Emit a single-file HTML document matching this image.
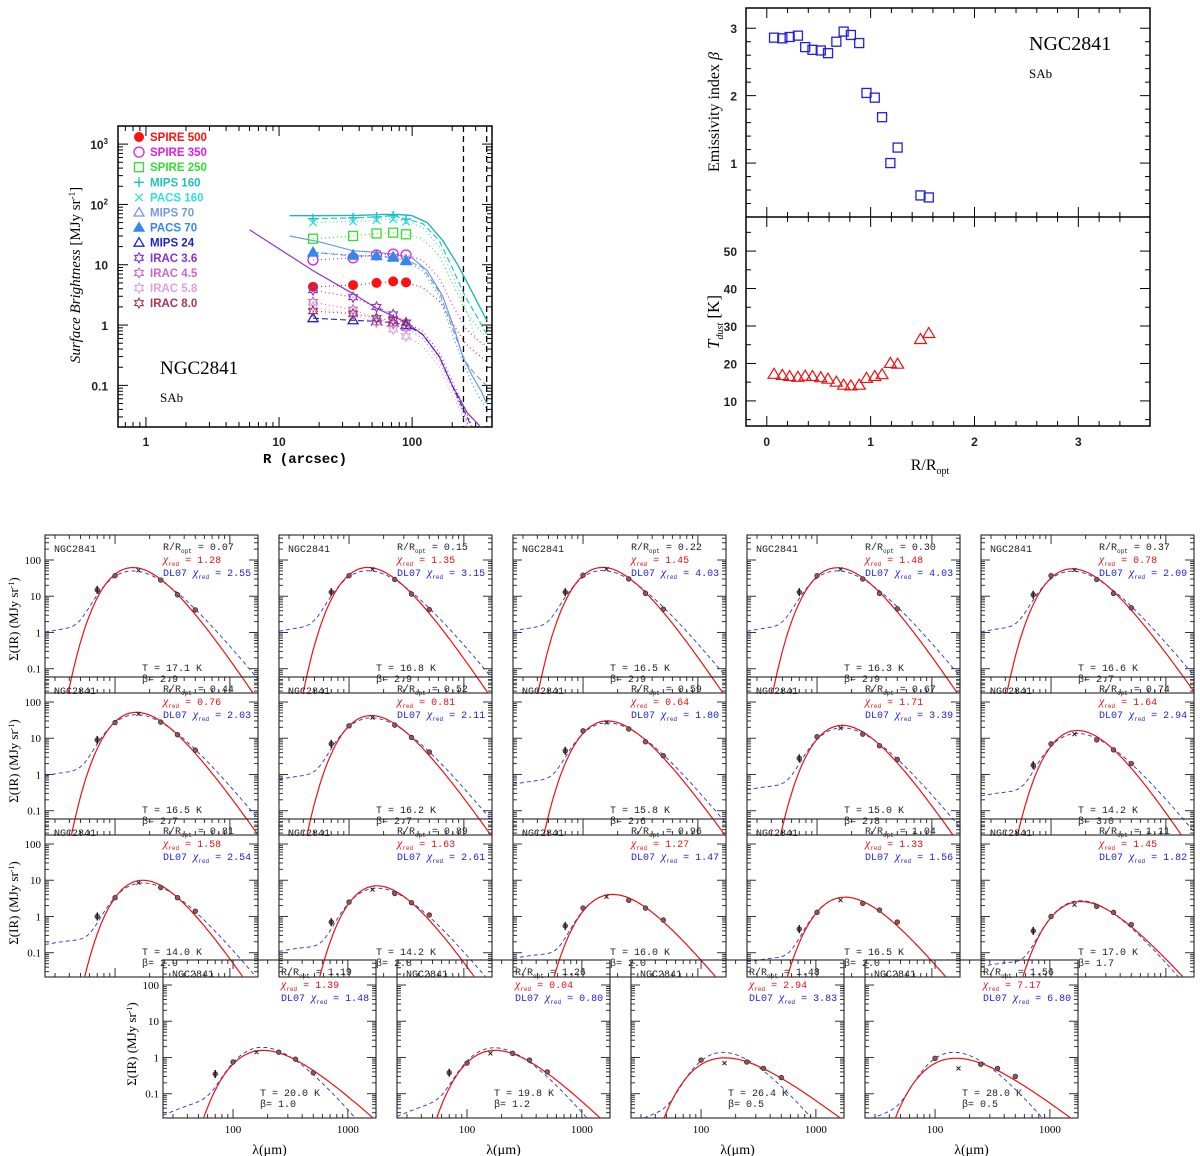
<!DOCTYPE html>
<html><head><meta charset="utf-8">
<style>
html,body{margin:0;padding:0;background:#fff;}
svg{display:block;font-family:"Liberation Serif",serif;}
.tk{font-family:"Liberation Sans",sans-serif;font-size:12px;font-weight:bold;fill:#222;}
.st{font-family:"Liberation Mono",monospace;font-size:10px;}
</style></head>
<body>
<svg id="fig" width="1200" height="1156" viewBox="0 0 1200 1156" xmlns="http://www.w3.org/2000/svg">
<defs id="defs"></defs>
</svg>
<script>
// ---------- Profile plot data ----------
const profR = [18, 36, 54, 72, 90];
const extR = [18, 36, 54, 72, 90, 120, 160, 200, 250, 300, 363];
const seriesNames = ["SPIRE 500","SPIRE 350","SPIRE 250","MIPS 160","PACS 160","MIPS 70","PACS 70","MIPS 24","IRAC 3.6","IRAC 4.5","IRAC 5.8","IRAC 8.0"];
const seriesColors = ["#ff1010","#e020e0","#33dd33","#20c0c0","#30e0e0","#7799dd","#3388ee","#2222cc","#8833cc","#cc66cc","#e0a0e0","#aa3355"];
const seriesMarkers = ["fcircle","ocircle","square","plus","cross","otri","ftri","otri","star","star","star","star"];
const seriesDash = ["1,3","1,3","1,3","6,3","1,3","6,3","1,3","6,3","1,3","1,3","1,3","1,3"];
const spire500 = [4.3,4.6,5.0,5.3,5.1,4.2,2.5,1.1,0.5,0.35,0.25];
const spire350 = [12,13,14.5,15,14.5,12,6,2.2,0.9,0.6,0.45];
const spire250 = [27,30,33,34,32,27,14,5,1.8,1.0,0.6];
const mips160 = [58,60,62,65,57,48,25,9,3,1.5,0.7];
const pacs160 = [50,52,55,57,52,42,20,7,2,0.6,0.4];
const mips70 = [16,14,14,13,12,9,3.5,0.9,0.25,0.15,0.1];
const pacs70 = [16,14.5,14,13.5,11.5,8,3,0.7,0.2,0.08,0.04];
const mips24 = [1.3,1.2,1.15,1.1,1.0,0.7,0.3,0.1,0.035,0.015,0.008];
const irac36 = [3.8,2.9,2.0,1.5,1.1,0.7,0.3,0.1,0.03,0.01,0.005];
const irac45 = [2.4,1.8,1.3,1.05,0.9,0.6,0.25,0.09,0.03,0.01,0.005];
const irac58 = [2.0,1.5,1.1,0.85,0.65,0.45,0.2,0.07,0.025,0.01,0.005];
const irac80 = [1.7,1.55,1.3,1.2,1.1,0.8,0.35,0.12,0.04,0.015,0.008];
const solidTealR = [12,20,40,60,80,100,130,170,220,260,363];
const solidTealV = [65,65,66,68,68,65,50,25,10,5,1.2];
const solidBlueR = [12,20,36,54,72,100,130,170,210,240,280,330,363];
const solidBlueV = [30,24,17,16,15,13,8,3,0.8,0.3,0.15,0.08,0.05];
const solidPurpR = [6,18,36,54,72,90,120,160,200,260,330];
const solidPurpV = [38,8,3.3,1.9,1.4,1.1,0.7,0.3,0.1,0.035,0.02];
const apertureR = [243, 363];

// ---------- Radial beta / T data ----------
const rOpt = [0.07,0.15,0.22,0.30,0.37,0.44,0.52,0.59,0.67,0.74,0.81,0.89,0.96,1.04,1.11,1.19,1.26,1.48,1.56];
const betaVals = [2.86,2.85,2.87,2.89,2.72,2.68,2.67,2.63,2.80,2.95,2.90,2.78,2.04,1.97,1.68,1.00,1.23,0.52,0.49];
const tempVals = [17.1,16.8,16.5,16.3,16.6,16.5,16.2,15.8,15.0,14.2,14.0,14.2,16.0,16.5,17.0,20.0,19.8,26.4,28.0];

// ---------- SED panels data ----------
const sedLabelR = ["0.07","0.15","0.22","0.30","0.37","0.44","0.52","0.59","0.67","0.74","0.81","0.89","0.96","1.04","1.11","1.19","1.26","1.48","1.56"];
const sedT = ["17.1","16.8","16.5","16.3","16.6","16.5","16.2","15.8","15.0","14.2","14.0","14.2","16.0","16.5","17.0","20.0","19.8","26.4","28.0"];
const sedBeta = ["2.9","2.9","2.9","2.9","2.7","2.7","2.7","2.6","2.8","3.0","2.9","2.8","2.0","2.0","1.7","1.0","1.2","0.5","0.5"];
const chiMBB = ["1.28","1.35","1.45","1.48","0.78","0.76","0.81","0.64","1.71","1.64","1.58","1.63","1.27","1.33","1.45","1.39","0.04","2.94","7.17"];
const chiDL = ["2.55","3.15","4.03","4.03","2.09","2.03","2.11","1.80","3.39","2.94","2.54","2.61","1.47","1.56","1.82","1.48","0.80","3.83","6.80"];
const sedWave = [70,100,160,250,350,500];
const sedPts = [
 [15,37,52,28,11,4.2],[13,37,55,29,11.5,4.3],[13,38,56,30,12,4.4],[13,37,55,30,12,4.5],[11,37,53,29,12,4.8],
 [9,27,47,28,12.5,4.7],[7,22,37,23,10.5,4.2],[4.5,16,27,18,8,3.3],[2.8,11,19,13,6.2,2.6],[1.8,7,13,9,4.8,2.0],
 [1.0,3.3,8.5,6.3,3.3,1.4],[0.7,2.5,5.5,4.3,2.4,1.1],[0.55,1.7,3.5,2.8,1.7,0.8],[0.45,1.3,2.8,2.3,1.5,0.7],[0.4,1.0,2.1,1.9,1.3,0.6],
 [0.35,0.75,1.4,1.4,0.9,0.38],[0.38,0.7,1.3,1.3,0.85,0.4],[null,0.85,0.7,0.75,0.5,0.28],[null,0.95,0.5,0.65,0.5,0.3]
];

const NS = "http://www.w3.org/2000/svg";
const svg = document.getElementById('fig');
const defs = document.getElementById('defs');
function mk(tag, attrs, parent){
  const e = document.createElementNS(NS, tag);
  for (const k in attrs) e.setAttribute(k, attrs[k]);
  (parent||svg).appendChild(e);
  return e;
}
function txt(x,y,s,attrs,parent){
  const t = mk('text', Object.assign({x:x,y:y}, attrs||{}), parent);
  t.textContent = s; return t;
}
const L = Math.log10;

// ================= Profile plot =================
const P = {x0:118,x1:492,y0:126,y1:427,lx0:-0.21,lx1:2.6,ly0:-1.69,ly1:3.3};
const px = r => P.x0 + (L(r)-P.lx0)/(P.lx1-P.lx0)*(P.x1-P.x0);
const py = v => P.y1 - (L(v)-P.ly0)/(P.ly1-P.ly0)*(P.y1-P.y0);
const gP = mk('g',{});


const cp = mk('clipPath',{id:'clipP'},defs);
mk('rect',{x:P.x0,y:P.y0,width:P.x1-P.x0,height:P.y1-P.y0},cp);
for (let d=-1; d<=2; d++) for (let m=1; m<=9; m++){
  const r = m*Math.pow(10,d); const lr=L(r);
  if (lr<P.lx0||lr>P.lx1) continue;
  const x = px(r), len = m===1?10:5;
  mk('line',{x1:x,y1:P.y1,x2:x,y2:P.y1-len,stroke:'#000','stroke-width':1},gP);
  mk('line',{x1:x,y1:P.y0,x2:x,y2:P.y0+len,stroke:'#000','stroke-width':1},gP);
}
for (let d=-2; d<=3; d++) for (let m=1; m<=9; m++){
  const v = m*Math.pow(10,d); const lv=L(v);
  if (lv<P.ly0||lv>P.ly1) continue;
  const y = py(v), len = m===1?10:5;
  mk('line',{x1:P.x0,y1:y,x2:P.x0+len,y2:y,stroke:'#000','stroke-width':1},gP);
  mk('line',{x1:P.x1,y1:y,x2:P.x1-len,y2:y,stroke:'#000','stroke-width':1},gP);
}
mk('rect',{x:P.x0,y:P.y0,width:P.x1-P.x0,height:P.y1-P.y0,fill:'none',stroke:'#000','stroke-width':1.5},gP);
[[1,'1'],[10,'10'],[100,'100']].forEach(a=>{const t=txt(px(a[0]),446,a[1],{class:'tk','text-anchor':'middle'},gP);
  });
const ylabs = [[1000,'10','3'],[100,'10','2'],[10,'10',''],[1,'1',''],[0.1,'0.1','']];
ylabs.forEach(a=>{const t=txt(108,py(a[0])+5,'',{class:'tk','text-anchor':'end'},gP);
 const s1=mk('tspan',{},t); s1.textContent=a[1];
 if(a[2]){const s2=mk('tspan',{dy:-5,'font-size':8},t); s2.textContent=a[2];}
  });
{const t=txt(305,463,'R (arcsec)',{'font-size':14,'text-anchor':'middle','font-family':'Liberation Mono, monospace','font-weight':'bold'},gP);
  }
{const t=txt(0,0,'',{'font-size':15,'text-anchor':'middle',transform:'translate(80,275) rotate(-90)'},gP);
 const a=mk('tspan',{'font-style':'italic'},t); a.textContent='Surface Brightness ';
 const b=mk('tspan',{},t); b.textContent='[MJy sr';
 const c=mk('tspan',{dy:-5,'font-size':9},t); c.textContent='-1';
 const d=mk('tspan',{dy:5},t); d.textContent=']';
  }
{const t=txt(160,374,'NGC2841',{'font-size':19},gP);  }
{const t=txt(160,402,'SAb',{'font-size':13},gP);  }
apertureR.forEach(r=>{const l=mk('line',{x1:px(r),y1:P.y0,x2:px(r),y2:P.y1,stroke:'#000','stroke-width':1.3,'stroke-dasharray':'6,4'},gP);
  });
const gc = mk('g',{'clip-path':'url(#clipP)'},gP);
function pline(R,V,color,dash,w){
  const d = R.map((r,i)=>(i?'L':'M')+px(r).toFixed(1)+','+py(V[i]).toFixed(1)).join('');
  const p = mk('path',{d:d,fill:'none',stroke:color,'stroke-width':w||1.2},gc);
  if (dash) p.setAttribute('stroke-dasharray',dash);
  return p;
}
{const p=pline(solidTealR,solidTealV,'#20b8b0','',1.4);  }
{const p=pline(solidBlueR,solidBlueV,'#6a9ae0','',1.2);  }
{const p=pline(solidPurpR,solidPurpV,'#9030d0','',1.2);  }
const allSeries = [spire500,spire350,spire250,mips160,pacs160,mips70,pacs70,mips24,irac36,irac45,irac58,irac80];
function marker(kind,x,y,c,s,parent){
  const g = mk('g',{},parent);
  if(kind==='fcircle') mk('circle',{cx:x,cy:y,r:s,fill:c},g);
  else if(kind==='ocircle') mk('circle',{cx:x,cy:y,r:s,fill:'none',stroke:c,'stroke-width':1.3},g);
  else if(kind==='square') mk('rect',{x:x-s+0.5,y:y-s+0.5,width:2*s-1,height:2*s-1,fill:'none',stroke:c,'stroke-width':1.3},g);
  else if(kind==='plus'){mk('path',{d:`M${x-s},${y}L${x+s},${y}M${x},${y-s}L${x},${y+s}`,stroke:c,'stroke-width':1.4},g);}
  else if(kind==='cross'){const k=s*0.75;mk('path',{d:`M${x-k},${y-k}L${x+k},${y+k}M${x-k},${y+k}L${x+k},${y-k}`,stroke:c,'stroke-width':1.3},g);}
  else if(kind==='otri'||kind==='ftri'){mk('path',{d:`M${x},${y-s}L${x+s},${y+s*0.7}L${x-s},${y+s*0.7}Z`,fill:kind==='ftri'?c:'none',stroke:c,'stroke-width':1.3},g);}
  else if(kind==='star'){let d='';for(let i=0;i<12;i++){const a=Math.PI/6*i-Math.PI/2;const rr=i%2?s*0.55:s;d+=(i?'L':'M')+(x+rr*Math.cos(a)).toFixed(1)+','+(y+rr*Math.sin(a)).toFixed(1);}
    mk('path',{d:d+'Z',fill:'none',stroke:c,'stroke-width':1.1},g);}
  return g;
}
allSeries.forEach((vals,si)=>{
  const p = pline(extR,vals,seriesColors[si],seriesDash[si],1.1);
  
  
  profR.forEach((r,i)=>{
    const m = marker(seriesMarkers[si],px(r),py(vals[i]),seriesColors[si],5,gc);
    
    
  });
});
seriesNames.forEach((n,i)=>{
  const y = 141 + i*15.1;
  const g = mk('g',{},gP);
  
  
  marker(seriesMarkers[i],139,y-4,seriesColors[i],5,g);
  txt(150,y,n,{'font-size':11.5,'font-weight':'bold','fill':seriesColors[i],'font-family':'Liberation Sans, sans-serif'},g);
});

// ================= Beta / T plots =================
const Q = {x0:746,x1:1150,ya:8,ym:217,yb:426,xl0:-0.2,xl1:3.69};
const qx = r => Q.x0 + (r-Q.xl0)/(Q.xl1-Q.xl0)*(Q.x1-Q.x0);
const qyB = b => Q.ym - (b-0.2)/(3.3-0.2)*(Q.ym-Q.ya);
const qyT = t => Q.yb - (t-3.3)/(59.1-3.3)*(Q.yb-Q.ym);
const gQ = mk('g',{});


for (let v=0; v<=3.6; v+=0.2){
  const x=qx(v), major=Math.abs(v-Math.round(v))<1e-6, len=major?10:5;
  [Q.ya,Q.ym,Q.yb].forEach((y,k)=>{
    if(k!==2) mk('line',{x1:x,y1:y,x2:x,y2:y+len,stroke:'#000'},gQ);
    if(k!==0) mk('line',{x1:x,y1:y,x2:x,y2:y-len,stroke:'#000'},gQ);
  });
}
for (let b=0.4; b<=3.2; b+=0.2){const y=qyB(b),major=Math.abs(b-Math.round(b))<1e-6,len=major?10:5;
  mk('line',{x1:Q.x0,y1:y,x2:Q.x0+len,y2:y,stroke:'#000'},gQ);mk('line',{x1:Q.x1,y1:y,x2:Q.x1-len,y2:y,stroke:'#000'},gQ);}
for (let t=5; t<=55; t+=5){const y=qyT(t),major=t%10===0,len=major?10:5;
  mk('line',{x1:Q.x0,y1:y,x2:Q.x0+len,y2:y,stroke:'#000'},gQ);mk('line',{x1:Q.x1,y1:y,x2:Q.x1-len,y2:y,stroke:'#000'},gQ);}
mk('rect',{x:Q.x0,y:Q.ya,width:Q.x1-Q.x0,height:Q.yb-Q.ya,fill:'none',stroke:'#000','stroke-width':1.5},gQ);
mk('line',{x1:Q.x0,y1:Q.ym,x2:Q.x1,y2:Q.ym,stroke:'#000','stroke-width':1.5},gQ);
[0,1,2,3].forEach(v=>{const t=txt(qx(v),446,String(v),{class:'tk','text-anchor':'middle'},gQ);});
[1,2,3].forEach(v=>{const t=txt(737,qyB(v)+5,String(v),{class:'tk','text-anchor':'end'},gQ);});
[10,20,30,40,50].forEach(v=>{const t=txt(737,qyT(v)+5,String(v),{class:'tk','text-anchor':'end'},gQ);});
{const t=txt(930,470,'',{'font-size':16,'text-anchor':'middle'},gQ);
 const a=mk('tspan',{},t);a.textContent='R/R';const b=mk('tspan',{dy:4,'font-size':10},t);b.textContent='opt';
 }
{const t=txt(0,0,'',{'font-size':16,'text-anchor':'middle',transform:'translate(719,112) rotate(-90)'},gQ);
 const a=mk('tspan',{},t);a.textContent='Emissivity index ';const b=mk('tspan',{'font-style':'italic'},t);b.textContent='β';
 }
{const t=txt(0,0,'',{'font-size':17,'text-anchor':'middle',transform:'translate(719,322) rotate(-90)'},gQ);
 const a=mk('tspan',{'font-style':'italic'},t);a.textContent='T';const b=mk('tspan',{dy:4,'font-size':10,'font-style':'italic'},t);b.textContent='dust';
 const c=mk('tspan',{dy:-4},t);c.textContent='  [K]';
 }
{const t=txt(1029,50,'NGC2841',{'font-size':20},gQ);}
{const t=txt(1029,78,'SAb',{'font-size':13},gQ);}
rOpt.forEach((r,i)=>{
  const x=qx(r), y=qyB(betaVals[i]);
  const s=mk('rect',{x:x-4.5,y:y-4.5,width:9,height:9,fill:'none',stroke:'#2020dd','stroke-width':1.3},gQ);
  
  
  const yt=qyT(tempVals[i]);
  const tr=mk('path',{d:`M${x},${yt-6}L${x+6},${yt+4}L${x-6},${yt+4}Z`,fill:'none',stroke:'#ee1111','stroke-width':1.2},gQ);
  
  
});

// ================= SED panels =================
const PW=213, PH=158, LX0=1.39, LX1=3.245, LY0=-1.67, LY1=2.69;
const colX=[45,279,513,747,981], rowY=[535,677,819];
const row4X=[163,397,631,865], row4Y=960;
function mbb(lam,T,b){const x=14388/(lam*T);return Math.pow(lam,-(3+b))/(Math.exp(x)-1);}
for (let k=0;k<19;k++){
  let X,Y,col,last=false;
  if(k<15){X=colX[k%5];Y=rowY[Math.floor(k/5)];col=k%5;}else{X=row4X[k-15];Y=row4Y;col=k-15;last=true;}
  const sx=l=>X+(L(l)-LX0)/(LX1-LX0)*PW, sy=v=>Y+PH-(L(v)-LY0)/(LY1-LY0)*PH;
  const g=mk('g',{});
  
  
  const cid='cs'+k; const c=mk('clipPath',{id:cid},defs);
  mk('rect',{x:X,y:Y,width:PW,height:PH},c);
  for(let d=1;d<=3;d++)for(let m=1;m<=9;m++){const l=m*Math.pow(10,d);const ll=L(l);if(ll<LX0||ll>LX1)continue;
    const x=sx(l),len=m===1?9:4;mk('line',{x1:x,y1:Y+PH,x2:x,y2:Y+PH-len,stroke:'#333'},g);mk('line',{x1:x,y1:Y,x2:x,y2:Y+len,stroke:'#333'},g);}
  for(let d=-2;d<=2;d++)for(let m=1;m<=9;m++){const v=m*Math.pow(10,d);const lv=L(v);if(lv<LY0||lv>LY1)continue;
    const y=sy(v),len=m===1?9:4;mk('line',{x1:X,y1:y,x2:X+len,y2:y,stroke:'#333'},g);mk('line',{x1:X+PW,y1:y,x2:X+PW-len,y2:y,stroke:'#333'},g);}
  mk('rect',{x:X,y:Y,width:PW,height:PH,fill:'none',stroke:'#222','stroke-width':1.1},g);
  if(col===0){
    [[100,'100'],[10,'10'],[1,'1'],[0.1,'0.1']].forEach(a=>{const t=txt(X-4,sy(a[0])+4,a[1],{'font-size':11,'text-anchor':'end'},g);
      });
    const t=txt(0,0,'',{'font-size':13,'text-anchor':'middle',transform:`translate(${X-27},${Y+PH/2+5}) rotate(-90)`},g);
    const a=mk('tspan',{},t);a.textContent='Σ(IR) (MJy sr';const b=mk('tspan',{dy:-4,'font-size':8},t);b.textContent='-1';const cc=mk('tspan',{dy:4},t);cc.textContent=')';
    
  }
  if(last){
    [[100,'100'],[1000,'1000']].forEach(a=>{const t=txt(sx(a[0]),Y+PH+15,a[1],{'font-size':11,'text-anchor':'middle'},g);
      });
    const t=txt(X+PW/2,Y+PH+36,'λ(μm)',{'font-size':14,'text-anchor':'middle'},g);
    
  }
  {const t=txt(X+9,Y+17,'NGC2841',{class:'st',fill:'#222'},g);}
  {const t=txt(X+118,Y+15,'',{class:'st',fill:'#222'},g);const a=mk('tspan',{},t);a.textContent='R/R';const b=mk('tspan',{dy:3,'font-size':6},t);b.textContent='opt';const cc=mk('tspan',{dy:-3},t);cc.textContent=' = '+sedLabelR[k];
   }
  {const t=txt(X+118,Y+28,'',{class:'st',fill:'#ee1111'},g);const a=mk('tspan',{'font-family':'Liberation Serif, serif','font-style':'italic','font-size':12},t);a.textContent='χ';const b=mk('tspan',{dy:3,'font-size':6},t);b.textContent='red';const cc=mk('tspan',{dy:-3},t);cc.textContent=' = '+chiMBB[k];
   }
  {const t=txt(X+118,Y+41,'',{class:'st',fill:'#2222dd'},g);const a0=mk('tspan',{},t);a0.textContent='DL07 ';const a=mk('tspan',{'font-family':'Liberation Serif, serif','font-style':'italic','font-size':12},t);a.textContent='χ';const b=mk('tspan',{dy:3,'font-size':6},t);b.textContent='red';const cc=mk('tspan',{dy:-3},t);cc.textContent=' = '+chiDL[k];
   }
  {const t=txt(X+97,Y+PH-22,'T = '+sedT[k]+' K',{class:'st',fill:'#222'},g);}
  {const t=txt(X+97,Y+PH-11,'β= '+sedBeta[k],{class:'st',fill:'#222'},g);}
  const T=parseFloat(sedT[k]), B=parseFloat(sedBeta[k]), pts=sedPts[k];
  let s1=0,n1=0; for(let i=1;i<6;i++){if(pts[i]!=null){s1+=L(pts[i]/mbb(sedWave[i],T,B));n1++;}}
  const A=Math.pow(10,s1/n1);
  const Td=T*(3+B)/5;
  let s2=0,n2=0; for(let i=1;i<6;i++){if(pts[i]!=null){s2+=L(pts[i]/mbb(sedWave[i],Td,2));n2++;}}
  const A2=Math.pow(10,s2/n2);
  let pk=0; for(let i=0;i<6;i++) if(pts[i]!=null&&pts[i]>pk) pk=pts[i];
  const warm=pk*0.022*(B>1.5?1:0);
  const gcs=mk('g',{'clip-path':`url(#${cid})`},g);
  let dR='',dD='';
  for(let j=0;j<=120;j++){const ll=LX0+(LX1-LX0)*j/120;const l=Math.pow(10,ll);
    const vr=A*mbb(l,T,B);
    const vd=A2*mbb(l,Td,2)+warm*Math.pow(l/25,0.8)*Math.exp(-Math.pow(l/80,2)) + (B<=1.5?pk*0.02*Math.pow(l/25,1.5)*Math.exp(-Math.pow(l/90,2)):0);
    const yr=Math.min(Y+PH+40,sy(Math.max(vr,1e-6))), yd=sy(Math.max(vd,1e-6));
    dR+=(j?'L':'M')+sx(l).toFixed(1)+','+yr.toFixed(1);dD+=(j?'L':'M')+sx(l).toFixed(1)+','+yd.toFixed(1);}
  const pd=mk('path',{d:dD,fill:'none',stroke:'#2233dd','stroke-width':0.9,'stroke-dasharray':'4,3'},gcs);
  
  const pr=mk('path',{d:dR,fill:'none',stroke:'#ee1111','stroke-width':1.2},gcs);
  
  sedWave.forEach((l,i)=>{ if(pts[i]==null) return;
    const x=sx(l), y=sy(pts[i]);
    const m=mk('g',{},gcs);
    
    
    if(l===160){mk('path',{d:`M${x-2},${y-2}L${x+2},${y+2}M${x-2},${y+2}L${x+2},${y-2}`,stroke:'#222','stroke-width':1},m);}
    else mk('circle',{cx:x,cy:y,r:2.3,fill:'#a05060',stroke:'#332','stroke-width':0.8},m);
    if(l===70) mk('line',{x1:x,y1:y-4,x2:x,y2:y+4,stroke:'#222','stroke-width':1.5},m);
  });
}
</script>
</body></html>
